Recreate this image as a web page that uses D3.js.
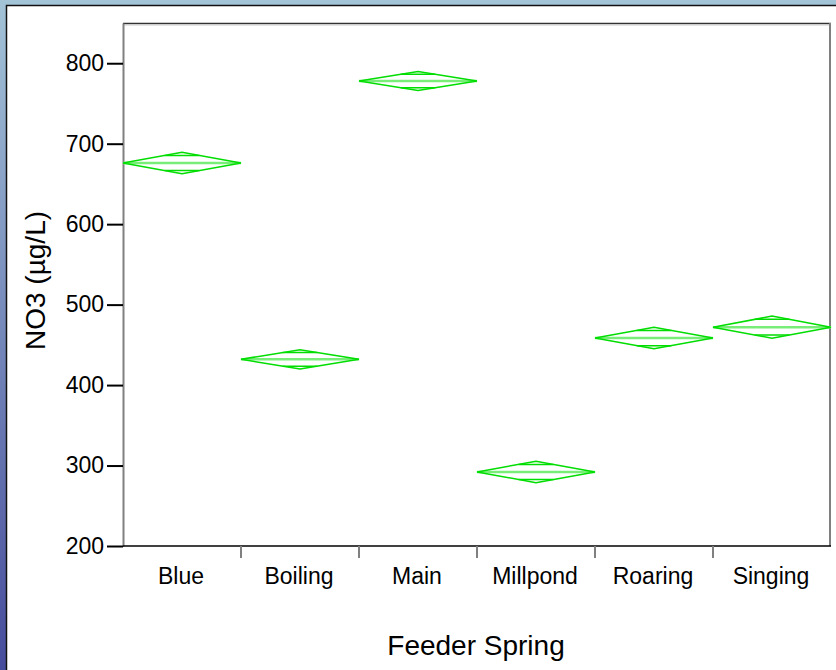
<!DOCTYPE html>
<html>
<head>
<meta charset="utf-8">
<script src="https://cdn.jsdelivr.net/npm/d3@7"></script>
<style>
  body { margin: 0; padding: 0; overflow: hidden; }
  text { font-family: "Liberation Sans", Arial, sans-serif; fill: #000; }
</style>
</head>
<body>
<script>
// feeder springs and their NO3 means with the half-width of the 95% interval
var springs = ["Blue", "Boiling", "Main", "Millpond", "Roaring", "Singing"];
var means = [676, 432, 778, 292, 458.5, 472];
var halfCI = [13.3, 12, 11.8, 13.3, 13.4, 13.7];
var yTicks = [200, 300, 400, 500, 600, 700, 800];

var W = 836, H = 670;
var margin = {top: 23, right: 5, bottom: 124, left: 123};
var width = W - margin.left - margin.right,
    height = H - margin.top - margin.bottom;

var svg = d3.select("body").append("svg")
    .attr("width", W)
    .attr("height", H);

// slide frame
var defs = svg.append("defs");
var grad = defs.append("linearGradient")
    .attr("id", "side").attr("x1", 0).attr("y1", 0).attr("x2", 0).attr("y2", 1);
grad.append("stop").attr("offset", "0%").attr("stop-color", "#a3c3d7");
grad.append("stop").attr("offset", "100%").attr("stop-color", "#464c9c");

svg.append("rect").attr("width", W).attr("height", H).attr("fill", "#a3c3d7");
svg.append("rect").attr("width", 6).attr("height", H).attr("fill", "url(#side)");
svg.append("rect").attr("x", 6).attr("y", 5).attr("width", W - 6).attr("height", H - 5)
    .attr("fill", "#fff");
svg.append("path").attr("d", "M6.5," + H + "V5.5H" + W)
    .attr("fill", "none").attr("stroke", "#111").attr("stroke-width", 1.5);

var g = svg.append("g")
    .attr("transform", "translate(" + margin.left + "," + margin.top + ")");

// scales
var x = d3.scaleBand()
    .domain(springs)
    .range([0, width]);

var y = d3.scaleLinear()
    .domain([200, 850])
    .range([height, 0]);

// frame of the plot
g.append("line").attr("x1", 0).attr("x2", width).attr("y1", 0.5).attr("y2", 0.5)
    .attr("stroke", "#333").attr("stroke-width", 1.5);
g.append("line").attr("x1", 0).attr("x2", width).attr("y1", 2).attr("y2", 2)
    .attr("stroke", "#ccc").attr("stroke-width", 1);
g.append("line").attr("x1", width - 1).attr("x2", width - 1).attr("y1", 0).attr("y2", height)
    .attr("stroke", "#808080").attr("stroke-width", 2);

// Y axis
var yAxis = g.append("g")
    .call(d3.axisLeft(y).tickValues(yTicks).tickSize(16).tickPadding(3).tickSizeOuter(0));
yAxis.select(".domain").attr("stroke", "#808080").attr("stroke-width", 2);
yAxis.selectAll(".tick line").attr("stroke", "#000").attr("stroke-width", 2);
yAxis.selectAll(".tick text").attr("font-size", 23).attr("fill", "#000")
    .attr("font-family", "Liberation Sans, Arial, sans-serif");

// X axis, ticks at the band edges
var xAxis = g.append("g")
    .attr("transform", "translate(0," + height + ")");
xAxis.append("line").attr("x1", 0).attr("x2", width).attr("y1", 0).attr("y2", 0)
    .attr("stroke", "#000").attr("stroke-width", 1.5);
xAxis.selectAll(".sep")
    .data(springs.slice(1))
  .enter().append("line")
    .attr("class", "sep")
    .attr("x1", d => x(d)).attr("x2", d => x(d))
    .attr("y1", 0).attr("y2", 12)
    .attr("stroke", "#808080").attr("stroke-width", 2);
xAxis.selectAll(".lab")
    .data(springs)
  .enter().append("text")
    .attr("class", "lab")
    .attr("x", d => x(d) + x.bandwidth() / 2 - 1)
    .attr("y", 38)
    .attr("text-anchor", "middle")
    .attr("font-size", 23)
    .text(d => d);

// axis titles
g.append("text")
    .attr("x", width / 2 - 1)
    .attr("y", height + 109)
    .attr("text-anchor", "middle")
    .attr("font-size", 28)
    .text("Feeder Spring");

g.append("text")
    .attr("transform", "translate(-78," + (height / 2 - 4) + ") rotate(-90)")
    .attr("text-anchor", "middle")
    .attr("font-size", 28)
    .text("NO3 (µg/L)");

// means diamonds
var rows = springs.map((s, i) => ({name: s, mean: means[i], ci: halfCI[i]}));
var bw = x.bandwidth();
var k = 1 - 1 / Math.SQRT2;

var dia = g.selectAll(".dia")
    .data(rows)
  .enter().append("g")
    .attr("class", "dia");

dia.append("line")
    .attr("x1", d => x(d.name)).attr("x2", d => x(d.name) + bw)
    .attr("y1", d => y(d.mean)).attr("y2", d => y(d.mean))
    .attr("stroke", "#78ee78").attr("stroke-width", 2.5);

dia.append("path")
    .attr("d", d => {
      var x0 = x(d.name), cx = x0 + bw / 2, x1 = x0 + bw;
      return "M" + x0 + "," + y(d.mean) +
        "L" + cx + "," + y(d.mean + d.ci) +
        "L" + x1 + "," + y(d.mean) +
        "L" + cx + "," + y(d.mean - d.ci) + "Z";
    })
    .attr("fill", "none")
    .attr("stroke", "#00dd00")
    .attr("stroke-width", 1.5);

// overlap marks
[1, -1].forEach(function(sgn) {
  dia.append("line")
      .attr("x1", d => x(d.name) + bw / 2 - bw / 2 * k)
      .attr("x2", d => x(d.name) + bw / 2 + bw / 2 * k)
      .attr("y1", d => y(d.mean + sgn * d.ci / Math.SQRT2))
      .attr("y2", d => y(d.mean + sgn * d.ci / Math.SQRT2))
      .attr("stroke", "#00dd00").attr("stroke-width", 1.5);
});
</script>
</body>
</html>
